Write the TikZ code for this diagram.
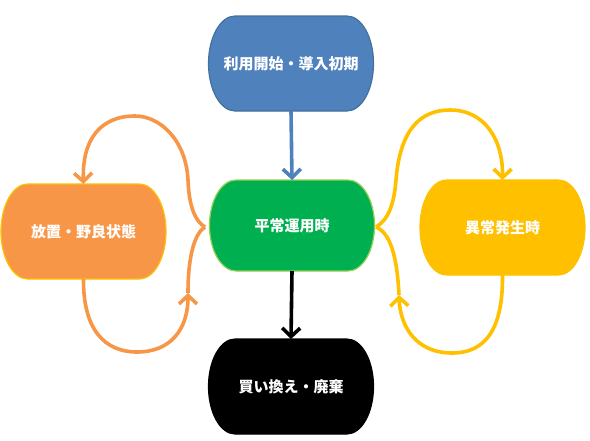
\documentclass[tikz,border=0pt]{standalone}
\usepackage{fontspec}
\newfontfamily\jp{Noto Sans CJK JP}
\usetikzlibrary{arrows.meta,backgrounds}
\definecolor{cblue}{HTML}{4F81BD}
\definecolor{cblueline}{HTML}{41719C}
\definecolor{cgreen}{HTML}{00B050}
\definecolor{cgreenline}{HTML}{92D050}
\definecolor{corange}{HTML}{F79646}
\definecolor{cyellow}{HTML}{FFC000}
\newcommand\termbg[4]{%
  \path[fill=#2,draw=#3,line width=1.2pt]
    ([xshift=26.6pt]#1.north west) -- ([xshift=-26.6pt]#1.north east)
    arc[start angle=90,end angle=-90,x radius=26.6pt,y radius=#4]
    -- ([xshift=26.6pt]#1.south west)
    arc[start angle=270,end angle=90,x radius=26.6pt,y radius=#4] -- cycle;}
\begin{document}
\begin{tikzpicture}[x=1pt,y=-1pt,
  term/.style={rectangle,minimum width=165pt,minimum height=95pt,inner sep=0pt,outer sep=0pt,
    text=white,font=\jp\bfseries\fontsize{15}{17}\selectfont},
  conn/.style={line width=3.6pt},
  tip/.style={-{Straight Barb[length=8.5pt,width=18pt]}}]
\useasboundingbox (0,0) rectangle (590,440);
\node[term] (start) at (291,63.5) {利用開始・導入初期};
\node[term,minimum height=91pt] (normal) at (292,225.5) {平常運用時};
\node[term] (idle) at (83.5,231.5) {放置・野良状態};
\node[term] (fault) at (502.5,227.5) {異常発生時};
\node[term] (end) at (291,386.5) {買い換え・廃棄};
\begin{pgfonlayer}{background}
\termbg{start}{cblue}{cblueline}{47.5pt}
\termbg{normal}{cgreen}{cgreenline}{45.5pt}
\termbg{idle}{corange}{cyellow}{47.5pt}
\termbg{fault}{cyellow}{cyellow}{47.5pt}
\termbg{end}{black}{black}{47.5pt}
\end{pgfonlayer}
\coordinate (lp) at (205,227);
\coordinate (rp) at (376,227);
\coordinate (lm) at (188,293);
\coordinate (rm) at (399,295);
\draw[conn,tip,cblue] (start.south) -- (normal.north);
\draw[conn,tip,black] (normal.south) -- (end.north);
% orange loops
\draw[conn,tip,corange] (lp) .. controls (196,222) and (189,208) .. (188,180)
  .. controls (186,140) and (160,116) .. (135,116)
  .. controls (100,116) and (82,140) .. (idle.north);
\draw[conn,tip,corange] (idle.south) .. controls (83,330) and (105,352) .. (137,352)
  .. controls (170,352) and (188,330) .. (lm);
\draw[conn,corange] (lm) .. controls (188,255) and (195,233) .. (lp);
% yellow loops
\draw[conn,tip,cyellow] (rp) .. controls (388,220) and (394,205) .. (396,180)
  .. controls (400,130) and (420,110) .. (450,110)
  .. controls (485,110) and (503,140) .. (fault.north);
\draw[conn,tip,cyellow] (fault.south) .. controls (503,330) and (485,353) .. (452,353)
  .. controls (415,353) and (400,325) .. (rm);
\draw[conn,cyellow] (rm) .. controls (397,255) and (390,233) .. (rp);
\end{tikzpicture}
\end{document}
